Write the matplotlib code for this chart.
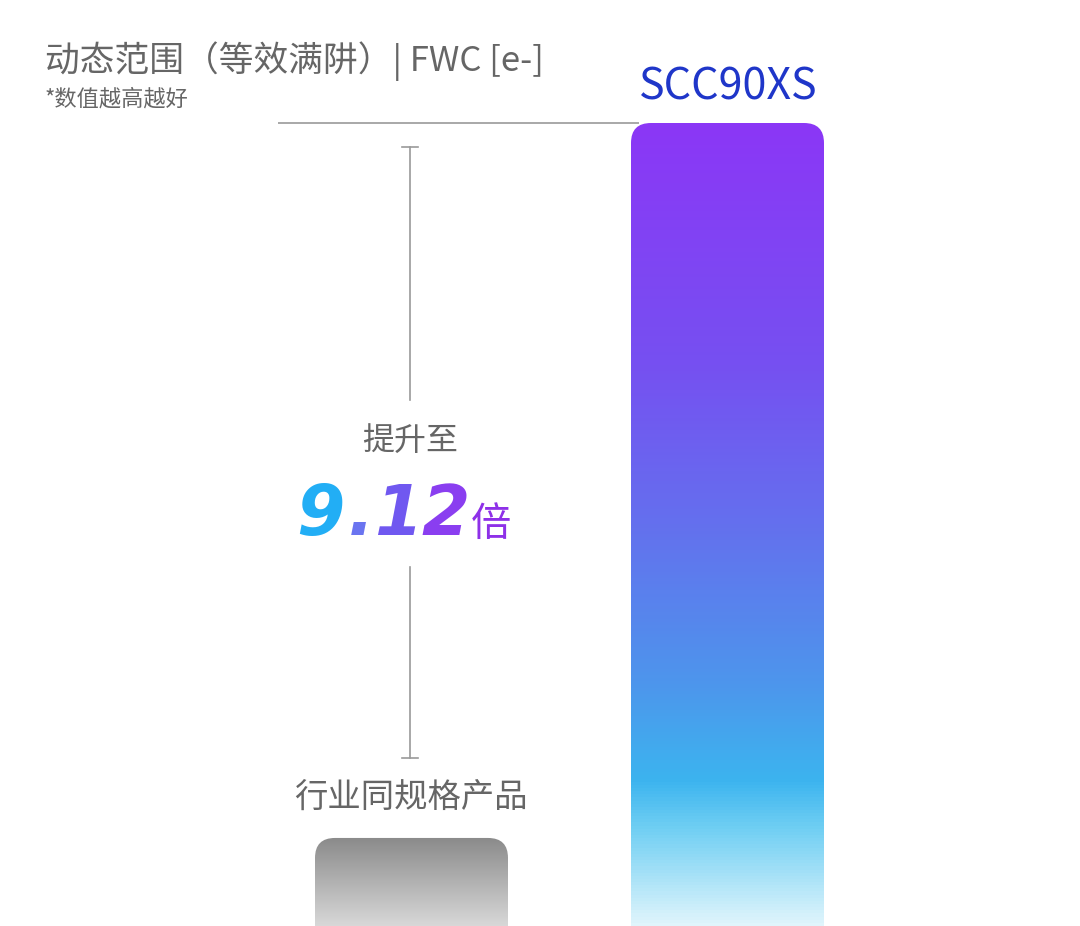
import numpy as np
import matplotlib.pyplot as plt
from matplotlib.colors import LinearSegmentedColormap
from matplotlib.patches import FancyBboxPatch

# data
categories = ['行业同规格产品', 'SCC90XS']
values = [1.0, 9.12]          # FWC relative to industry product
ratio_text = ['9', '.', '1', '2']
ratio_colors = ['#22aef5', '#6a74f0', '#7058f0', '#8a3ef0']
ratio_unit = '倍'

title = '动态范围（等效满阱）| FWC [e-]'
subtitle = '*数值越高越好'
lift_label = '提升至'

# gradient stops (top -> bottom)
purple_stops = [(0.0, '#8b37f6'), (0.3, '#7650f1'), (0.5, '#6470ee'),
                (0.7, '#4d96ec'), (0.82, '#3cb4ef'), (0.88, '#70cff3'),
                (1.0, '#e0f5fc')]
gray_stops = [(0.0, '#8a8a8a'), (1.0, '#d8d8d8')]

cjk = ['Noto Sans CJK SC', 'DejaVu Sans']
plt.rcParams['font.family'] = cjk

W, H = 1080, 926
fig = plt.figure(figsize=(W / 100, H / 100), dpi=100)
fig.patch.set_facecolor('white')

# bar axes: full figure, y in value units
bar_top_px = 123
x0_px, step_px = 411.5, 316
px_per_unit = (H - bar_top_px) / max(values)
ax = fig.add_axes([0, 0, 1, 1])
ax.set_xlim(-x0_px / step_px, (W - x0_px) / step_px)
ax.set_ylim(0, H / px_per_unit)
ax.axis('off')

x = np.arange(len(values))
bar_w = 193 / step_px
bars = ax.bar(x, values, width=bar_w, color='none', edgecolor='none')

aspect = step_px / px_per_unit
radius = 20 / step_px
for rect, stops in zip(bars, [gray_stops, purple_stops]):
    left, w, h = rect.get_x(), rect.get_width(), rect.get_height()
    clip = FancyBboxPatch((left, -1), w, h + 1,
                          boxstyle=f'round,pad=0,rounding_size={radius}',
                          mutation_aspect=aspect, facecolor='none',
                          edgecolor='none')
    ax.add_patch(clip)
    cmap = LinearSegmentedColormap.from_list('g', stops)
    grad = np.linspace(0, 1, 256).reshape(-1, 1)
    im = ax.imshow(grad, cmap=cmap, aspect='auto', origin='upper',
                   extent=[left, left + w, 0, h], zorder=2)
    im.set_clip_path(clip)

# reference line at the top of the SCC90XS bar
ax.hlines(values[1], (278 - x0_px) / step_px, bars[1].get_x() + radius * 0.4,
          color='#999999', lw=1.2, zorder=1)

# decoration axes in pixel coordinates
deco = fig.add_axes([0, 0, 1, 1])
deco.set_xlim(0, W)
deco.set_ylim(H, 0)
deco.axis('off')
deco.patch.set_alpha(0)

deco.text(45, 61, title, fontsize=25, color='#666666', ha='left', va='center')
deco.text(45, 99, subtitle, fontsize=16, color='#666666', ha='left', va='center')
deco.text(728, 88, categories[1], fontsize=31, color='#1f36c9',
          ha='center', va='center')
deco.text(411, 797, categories[0], fontsize=24, color='#666666',
          ha='center', va='center')
deco.text(410, 441, lift_label, fontsize=23, color='#666666',
          ha='center', va='center')

# bracket between the bars
line_kw = dict(color='#9a9a9a', lw=1.2)
deco.plot([410, 410], [147, 400], **line_kw)
deco.plot([410, 410], [567, 758], **line_kw)
deco.plot([402, 418], [147, 147], **line_kw)
deco.plot([402, 418], [758, 758], **line_kw)

# "9.12倍"
char_x = [320, 361, 398, 446]
for ch, cx, col in zip(ratio_text, char_x, ratio_colors):
    deco.text(cx, 535, ch, fontsize=50, color=col, ha='center',
              va='baseline', family=['DejaVu Sans'], weight='bold',
              style='italic')
deco.text(491, 536, ratio_unit, fontsize=29, color='#8e30e8',
          ha='center', va='baseline')

fig.savefig('out.png', dpi=100, facecolor='white')
